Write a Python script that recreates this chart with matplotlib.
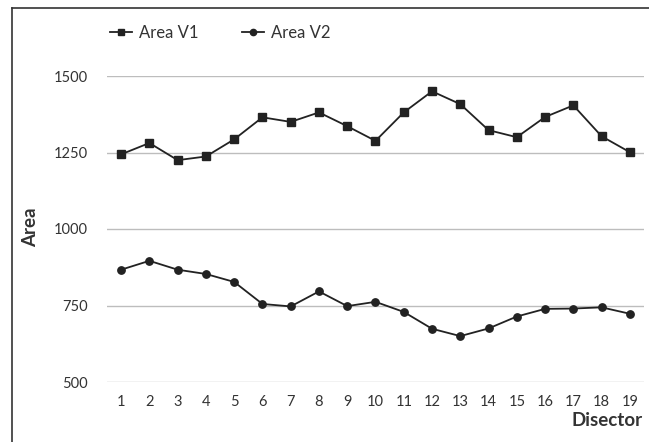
import matplotlib
matplotlib.use("Agg")
import matplotlib.pyplot as plt
from matplotlib.lines import Line2D

plt.rcParams['font.family'] = ['Lato', 'DejaVu Sans']

disectors = list(range(1, 20))
area_v1 = [1244, 1281, 1225, 1237, 1293, 1365, 1350, 1381, 1336, 1288,
           1381, 1450, 1408, 1323, 1300, 1366, 1404, 1303, 1251]
area_v2 = [867, 896, 867, 853, 827, 755, 747, 796, 748, 762,
           729, 674, 650, 675, 714, 739, 740, 744, 723]
y_ticks = [500, 750, 1000, 1250, 1500]

W, H = 649, 442
fig = plt.figure(figsize=(W / 100, H / 100), dpi=100)
ax = fig.add_axes([107 / W, 1 - 382 / H, (644 - 107) / W, (382 - 76) / H])

txt = '#333333'
ax.plot(disectors, area_v1, color='#222222', lw=1.3, marker='s', ms=5.5,
        label='Area V1')
ax.plot(disectors, area_v2, color='#222222', lw=1.3, marker='o', ms=5.3,
        label='Area V2')

ax.set_xlim(0.5, 19.5)
ax.set_ylim(500, 1500)
ax.set_xticks(disectors)
ax.set_yticks(y_ticks)
ax.tick_params(axis='both', length=0, labelsize=10.5, colors=txt)
ax.tick_params(axis='y', pad=14)
ax.tick_params(axis='x', pad=9)
ax.grid(axis='y', color='#bdbdbd', lw=1)
ax.set_axisbelow(True)
for s in ax.spines.values():
    s.set_visible(False)

fig.text(31 / W, 1 - 227 / H, 'Area', rotation=90, ha='center', va='center',
         fontsize=13.5, fontweight='bold', color=txt)
fig.text(643 / W, 1 - 421 / H, 'Disector', ha='right', va='center',
         fontsize=13.5, fontweight='bold', color=txt)

handles = [Line2D([], [], color='#222222', lw=1.3, marker='s', ms=5),
           Line2D([], [], color='#222222', lw=1.3, marker='o', ms=4.5)]
fig.legend(handles, ['Area V1', 'Area V2'], loc='center left',
           bbox_to_anchor=(95 / W, 1 - 33 / H), ncol=2, frameon=False,
           fontsize=12, handlelength=1.3, handletextpad=0.45,
           columnspacing=2.6, labelcolor=txt)

# outer frame (left and top edges visible)
fig.add_artist(Line2D([11.5 / W, 11.5 / W], [0, 1 - 8 / H], color='#333333',
                      lw=1.2, transform=fig.transFigure))
fig.add_artist(Line2D([11.5 / W, 1], [1 - 8 / H, 1 - 8 / H], color='#333333',
                      lw=1.2, transform=fig.transFigure))

fig.savefig('out.png', dpi=100)
